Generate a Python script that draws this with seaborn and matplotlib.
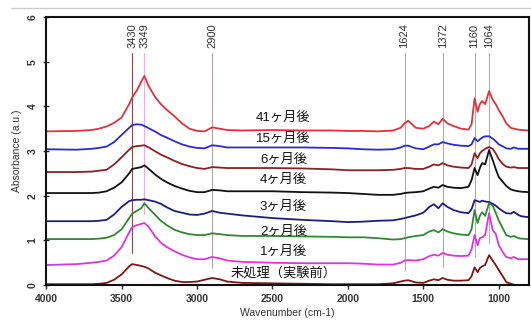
import numpy as np
import pandas as pd
import seaborn as sns
import matplotlib.pyplot as plt
from matplotlib.lines import Line2D

# wavenumber grid (cm-1) used for every spectrum
wn = [4000, 3800, 3700, 3650, 3600, 3550, 3500, 3450, 3430, 3400, 3370, 3349, 3320, 3280,
      3240, 3200, 3150, 3100, 3050, 3000, 2950, 2900, 2850, 2800, 2700, 2500, 2300, 2100,
      2000, 1900, 1800, 1700, 1650, 1624, 1600, 1550, 1500, 1460, 1430, 1400, 1372, 1340,
      1300, 1250, 1200, 1180, 1160, 1140, 1125, 1110, 1090, 1064, 1040, 1020, 1000, 970,
      950, 920, 900, 870, 850, 800]

m41 = [3.44, 3.45, 3.47, 3.5, 3.55, 3.63, 3.75, 4.05, 4.2, 4.35, 4.55, 4.68, 4.45, 4.22,
       4.05, 3.92, 3.78, 3.62, 3.5, 3.45, 3.44, 3.53, 3.5, 3.47, 3.46, 3.47, 3.46, 3.46,
       3.45, 3.45, 3.44, 3.46, 3.52, 3.62, 3.68, 3.52, 3.5, 3.56, 3.66, 3.6, 3.72, 3.62,
       3.56, 3.5, 3.48, 3.6, 4.18, 3.88, 4.05, 4.12, 4.05, 4.34, 4.15, 4.05, 3.92, 3.75,
       3.62, 3.52, 3.5, 3.48, 3.47, 3.46]
m15 = [3.04, 3.03, 3.05, 3.07, 3.1, 3.2, 3.36, 3.52, 3.58, 3.6, 3.59, 3.56, 3.51, 3.44,
       3.36, 3.3, 3.22, 3.15, 3.1, 3.07, 3.06, 3.13, 3.11, 3.08, 3.08, 3.08, 3.08, 3.07,
       3.06, 3.04, 3.03, 3.04, 3.08, 3.12, 3.12, 3.06, 3.04, 3.1, 3.15, 3.15, 3.2, 3.17,
       3.14, 3.12, 3.11, 3.15, 3.29, 3.22, 3.26, 3.3, 3.33, 3.33, 3.28, 3.22, 3.15, 3.1,
       3.06, 3.05, 3.08, 3.05, 3.05, 3.05]
m6 = [2.53, 2.53, 2.54, 2.56, 2.58, 2.7, 2.86, 3.03, 3.09, 3.11, 3.12, 3.13, 3.08, 3.0,
      2.92, 2.86, 2.78, 2.71, 2.66, 2.62, 2.6, 2.64, 2.63, 2.62, 2.62, 2.62, 2.61, 2.59,
      2.57, 2.57, 2.57, 2.58, 2.6, 2.62, 2.62, 2.6, 2.6, 2.65, 2.7, 2.68, 2.73, 2.68,
      2.65, 2.63, 2.62, 2.7, 2.95, 2.84, 2.95, 3.0, 3.05, 3.09, 3.05, 2.95, 2.82, 2.7,
      2.65, 2.63, 2.64, 2.62, 2.62, 2.62]
m4 = [2.06, 2.06, 2.06, 2.07, 2.1, 2.18, 2.3, 2.5, 2.6, 2.62, 2.64, 2.68, 2.6, 2.48,
      2.38, 2.3, 2.22, 2.16, 2.11, 2.08, 2.08, 2.13, 2.12, 2.1, 2.1, 2.1, 2.08, 2.07,
      2.06, 2.04, 2.02, 2.02, 2.04, 2.06, 2.07, 2.08, 2.1, 2.16, 2.2, 2.18, 2.24, 2.2,
      2.18, 2.17, 2.2, 2.35, 2.62, 2.46, 2.62, 2.73, 2.7, 3.02, 2.8, 2.6, 2.42, 2.3,
      2.22, 2.14, 2.12, 2.1, 2.09, 2.08]
m3 = [1.43, 1.43, 1.43, 1.44, 1.46, 1.58, 1.75, 1.88, 1.9, 1.91, 1.91, 1.92, 1.9, 1.87,
      1.82, 1.74, 1.66, 1.62, 1.58, 1.57, 1.6, 1.66, 1.62, 1.6, 1.56, 1.5, 1.46, 1.43,
      1.41, 1.42, 1.44, 1.45, 1.48, 1.5, 1.52, 1.56, 1.62, 1.75, 1.81, 1.72, 1.83, 1.75,
      1.68, 1.63, 1.61, 1.7, 1.9, 1.88, 1.86, 1.89, 1.87, 1.86, 1.82, 1.78, 1.72, 1.65,
      1.61, 1.6, 1.64, 1.57, 1.54, 1.52]
m2 = [1.03, 1.03, 1.03, 1.04, 1.06, 1.12, 1.25, 1.5, 1.6, 1.66, 1.72, 1.83, 1.72, 1.58,
      1.44, 1.34, 1.24, 1.18, 1.14, 1.12, 1.12, 1.16, 1.14, 1.12, 1.1, 1.1, 1.09, 1.08,
      1.07, 1.07, 1.05, 1.02, 1.03, 1.05, 1.07, 1.1, 1.12, 1.2, 1.23, 1.18, 1.25, 1.2,
      1.16, 1.13, 1.12, 1.25, 1.68, 1.39, 1.55, 1.63, 1.55, 1.83, 1.78, 1.62, 1.45, 1.25,
      1.12, 1.08, 1.1, 1.05, 1.04, 1.03]
m1 = [0.45, 0.47, 0.5, 0.52, 0.55, 0.66, 0.85, 1.18, 1.3, 1.34, 1.37, 1.39, 1.3, 1.1,
      0.95, 0.85, 0.76, 0.68, 0.62, 0.58, 0.58, 0.63, 0.6, 0.55, 0.52, 0.5, 0.49, 0.49,
      0.49, 0.48, 0.46, 0.46, 0.5, 0.55, 0.56, 0.55, 0.58, 0.65, 0.68, 0.66, 0.72, 0.68,
      0.66, 0.65, 0.66, 0.8, 1.12, 0.89, 1.05, 1.07, 1.12, 1.61, 1.23, 1.15, 0.9, 0.72,
      0.63, 0.6, 0.63, 0.58, 0.58, 0.58]
m0 = [0.02, 0.02, 0.02, 0.03, 0.05, 0.12, 0.24, 0.42, 0.47, 0.45, 0.43, 0.41, 0.37, 0.28,
      0.22, 0.16, 0.1, 0.07, 0.07, 0.08, 0.12, 0.16, 0.13, 0.08, 0.05, 0.04, 0.03, 0.02,
      0.02, 0.02, 0.02, 0.04, 0.08, 0.1, 0.11, 0.06, 0.05, 0.1, 0.13, 0.11, 0.16, 0.12,
      0.1, 0.1, 0.11, 0.2, 0.4, 0.29, 0.38, 0.42, 0.45, 0.67, 0.55, 0.45, 0.34, 0.18,
      0.07, 0.03, 0.01, 0.0, 0.0, 0.0]

series_names = ['41ヶ月後', '15ヶ月後', '6ヶ月後', '4ヶ月後', '3ヶ月後', '2ヶ月後', '1ヶ月後', '未処理（実験前）']
series_vals = [m41, m15, m6, m4, m3, m2, m1, m0]
series_colors = ['#e2313a', '#2a2ad0', '#8e1f22', '#111111', '#1d1d7e', '#2f8a2f', '#e033e0', '#7e1616']
label_y = [3.74, 3.27, 2.80, 2.35, 1.74, 1.19, 0.74, 0.27]

# marker lines: wavenumber, lower end, colour
peaks = [3430, 3349, 2900, 1624, 1372, 1160, 1064]
peak_bottom = [0.72, 1.6, 0.38, 0.34, 0.4, 0.63, 0.94]
peak_colors = ['#8a4a4a', '#e8b0e8', '#b0a6a6', '#bca6ae', '#bca6ae', '#bca6ae', '#bca6ae']

rows = []
for name, vals in zip(series_names, series_vals):
    for w, a in zip(wn, vals):
        rows.append((name, w, a))
df = pd.DataFrame(rows, columns=['sample', 'wavenumber', 'absorbance'])

sns.set_style('ticks')
plt.rcParams['font.family'] = ['Liberation Sans', 'Noto Sans CJK JP', 'DejaVu Sans']

fig = plt.figure(figsize=(5.31, 3.2), dpi=100)
ax = fig.add_axes([0.087, 0.109, 0.909, 0.838])

for p, lo, c in zip(peaks, peak_bottom, peak_colors):
    ax.plot([p, p], [lo, 5.19], color=c, lw=0.8, zorder=1)
    ax.text(p, 5.3, str(p), rotation=90, ha='center', va='bottom', fontsize=8, color='#333333')

sns.lineplot(data=df, x='wavenumber', y='absorbance', hue='sample', hue_order=series_names,
             palette=series_colors, estimator=None, sort=False, lw=1.3, legend=False, ax=ax, zorder=2)

for name, ly in zip(series_names, label_y):
    ax.text(2427, ly, name, ha='center', va='center', fontsize=9.5,
            family=['Liberation Sans', 'Noto Sans CJK JP'], color='#111111')

ax.set_xlim(4000, 800)
ax.set_ylim(0, 6)
ax.set_xticks([4000, 3500, 3000, 2500, 2000, 1500, 1000])
ax.set_yticks([0, 1, 2, 3, 4, 5, 6])
ax.tick_params(axis='x', direction='out', length=3, width=1, labelsize=7.5)
ax.tick_params(axis='y', direction='inout', length=5, width=1, labelsize=7.5, labelrotation=90)
for lab in ax.get_xticklabels() + ax.get_yticklabels():
    lab.set_fontweight('bold')
    lab.set_color('#333333')
for lab in ax.get_yticklabels():
    lab.set_va('center')
ax.set_xlabel('Wavenumber (cm-1)', fontsize=7.5, color='#333333', labelpad=3)
ax.set_ylabel('Absorbance (a.u.)', fontsize=7.5, color='#333333', labelpad=4)
for s in ax.spines.values():
    s.set_linewidth(1.5)
    s.set_color('#111111')

fig.add_artist(Line2D([0.02, 1.0], [0.975, 0.975], color='#cccccc', lw=1))

fig.savefig('out.png', dpi=100)
